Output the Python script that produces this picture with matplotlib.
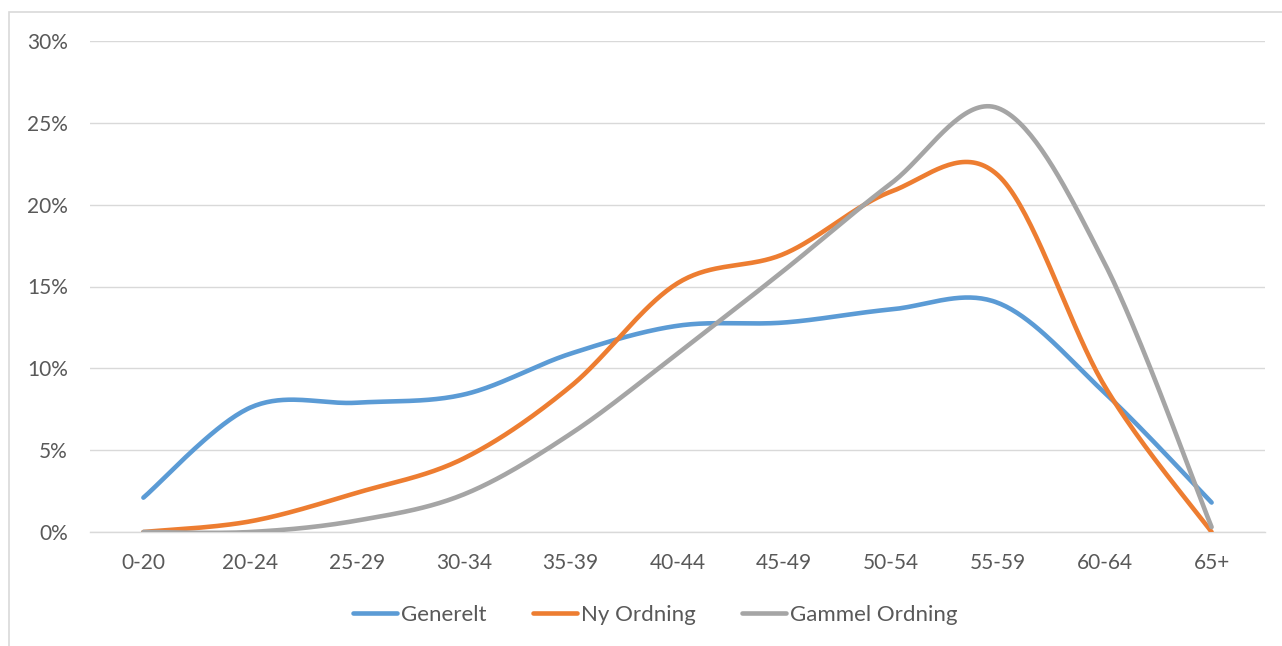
import numpy as np
import matplotlib
matplotlib.use("Agg")
import matplotlib.pyplot as plt
from matplotlib.patches import Rectangle
from matplotlib.lines import Line2D

categories = ["0-20", "20-24", "25-29", "30-34", "35-39", "40-44", "45-49",
              "50-54", "55-59", "60-64", "65+"]
generelt = [2.1, 7.6, 7.9, 8.4, 10.9, 12.6, 12.8, 13.6, 14.0, 8.5, 1.8]
ny_ordning = [0.0, 0.65, 2.4, 4.5, 8.9, 15.2, 17.0, 20.8, 21.8, 8.9, 0.0]
gammel_ordning = [0.0, 0.0, 0.7, 2.3, 6.0, 10.9, 16.0, 21.3, 25.9, 16.4, 0.3]

series = [("Generelt", generelt, "#5B9BD5"),
          ("Ny Ordning", ny_ordning, "#ED7D31"),
          ("Gammel Ordning", gammel_ordning, "#A5A5A5")]

plt.rcParams['font.family'] = ['Lato', 'DejaVu Sans']
TXT = "#595959"
GRID = "#D9D9D9"


def smooth(xs, ys, n=40):
    pts = np.column_stack([xs, ys]).astype(float)
    m = len(pts)
    out = []
    for i in range(m - 1):
        p0 = pts[i - 1] if i > 0 else pts[i]
        p1 = pts[i]
        p2 = pts[i + 1]
        p3 = pts[i + 2] if i + 2 < m else pts[i + 1]
        c1 = p1 + (p2 - p0) / 6.0
        c2 = p2 - (p3 - p1) / 6.0
        t = np.linspace(0, 1, n)[:, None]
        seg = ((1 - t) ** 3) * p1 + 3 * ((1 - t) ** 2) * t * c1 + 3 * (1 - t) * t ** 2 * c2 + t ** 3 * p2
        if i > 0:
            seg = seg[1:]
        out.append(seg)
    out = np.vstack(out)
    return out[:, 0], out[:, 1]


W, H = 1282, 646
fig = plt.figure(figsize=(W / 100, H / 100), dpi=100)
ax = fig.add_axes([90 / W, 1 - 532 / H, (1265 - 90) / W, (532 - 41) / H])

x = np.arange(len(categories))
handles = []
for name, vals, col in series:
    sx, sy = smooth(x, vals)
    ax.plot(sx, sy, color=col, lw=3.3, solid_capstyle='round', solid_joinstyle='round', zorder=3)
    handles.append(Line2D([0], [0], color=col, lw=3.3, solid_capstyle='round', label=name))

ax.set_xlim(-0.5, len(categories) - 0.5)
ax.set_ylim(0, 30)
ax.set_yticks(np.arange(0, 31, 5))
ax.set_yticklabels([f"{v}%" for v in range(0, 31, 5)])
ax.set_xticks(x)
ax.set_xticklabels(categories)
ax.yaxis.grid(True, color=GRID, lw=1.0)
ax.set_axisbelow(True)
for s in ["top", "right", "left"]:
    ax.spines[s].set_visible(False)
ax.spines["bottom"].set_color(GRID)
ax.spines["bottom"].set_linewidth(1.0)
ax.tick_params(axis='both', length=0, colors=TXT, labelsize=15)
ax.tick_params(axis='y', pad=16)
ax.tick_params(axis='x', pad=15)

fig.legend(handles=handles, loc='center', bbox_to_anchor=(655 / W, 1 - 615 / H),
           ncol=3, frameon=False, fontsize=16, handlelength=2.0, handletextpad=0.15,
           columnspacing=2.1, labelcolor=TXT)

fig.patches.append(Rectangle((9 / W, -0.1), 1.2, 1 - 12 / H + 0.1, transform=fig.transFigure,
                             fill=False, edgecolor=GRID, lw=1.2, zorder=0))

fig.savefig("out.png", dpi=100, facecolor="white")
